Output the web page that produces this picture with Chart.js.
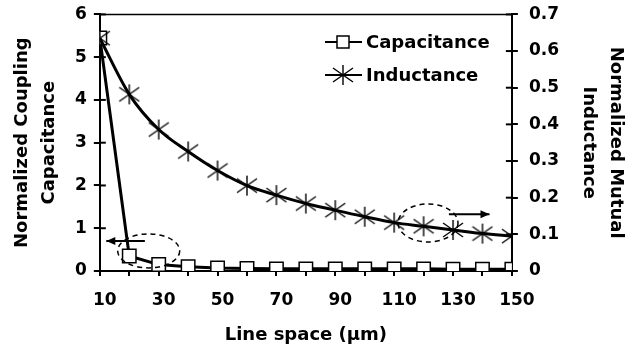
<!DOCTYPE html>
<html>
<head>
<meta charset="utf-8">
<script src="https://cdn.jsdelivr.net/npm/chart.js@4/dist/chart.umd.min.js"></script>
<style>
  body { margin: 0; background: #fff; }
</style>
</head>
<body>
<canvas id="c" width="638" height="352"></canvas>
<script>
// data
const spaces = [10, 20, 30, 40, 50, 60, 70, 80, 90, 100, 110, 120, 130, 140, 150];
const capacitance = [5.45, 0.35, 0.15, 0.1, 0.07, 0.06, 0.05, 0.05, 0.05, 0.05, 0.05, 0.05, 0.04, 0.04, 0.04];
const inductance = [0.635, 0.482, 0.386, 0.326, 0.274, 0.233, 0.207, 0.184, 0.166, 0.148, 0.132, 0.122, 0.112, 0.102, 0.095];
const xLabels = [10, 30, 50, 70, 90, 110, 130, 150];

const FONT = "'DejaVu Sans', sans-serif";

// asterisk marker like the Excel one
function starMarker(){
    let cv = document.createElement('canvas');
    cv.width = 22; cv.height = 22;
    let g = cv.getContext('2d');
    g.strokeStyle = '#000';
    g.lineWidth = 1.4;
    g.beginPath();
    g.moveTo(11, 1); g.lineTo(11, 21);
    g.moveTo(1, 4); g.lineTo(21, 18);
    g.moveTo(1, 18); g.lineTo(21, 4);
    g.stroke();
    return cv;
}
const star = starMarker();

function arrow(ctx, x1, y1, x2, y2){
    ctx.beginPath();
    ctx.moveTo(x1, y1);
    ctx.lineTo(x2, y2);
    ctx.stroke();
    let a = Math.atan2(y2 - y1, x2 - x1);
    ctx.beginPath();
    ctx.moveTo(x2, y2);
    ctx.lineTo(x2 - 9 * Math.cos(a) + 4 * Math.sin(a), y2 - 9 * Math.sin(a) - 4 * Math.cos(a));
    ctx.lineTo(x2 - 9 * Math.cos(a) - 4 * Math.sin(a), y2 - 9 * Math.sin(a) + 4 * Math.cos(a));
    ctx.closePath();
    ctx.fill();
}

const extras = {
    id: 'extras',
    afterDraw(chart){
        const ctx = chart.ctx;
        const a = chart.chartArea;
        const x = chart.scales.x, y = chart.scales.y, y1 = chart.scales.y1;
        ctx.save();
        ctx.strokeStyle = '#000';
        ctx.fillStyle = '#000';
        // top frame line
        ctx.lineWidth = 1.5;
        ctx.beginPath();
        ctx.moveTo(a.left, a.top);
        ctx.lineTo(a.right, a.top);
        ctx.stroke();
        // inner half of the y ticks
        ctx.lineWidth = 2;
        y.ticks.forEach(t => {
            let py = y.getPixelForValue(t.value);
            ctx.beginPath(); ctx.moveTo(a.left, py); ctx.lineTo(a.left + 6, py); ctx.stroke();
        });
        y1.ticks.forEach(t => {
            let py = y1.getPixelForValue(t.value);
            ctx.beginPath(); ctx.moveTo(a.right, py); ctx.lineTo(a.right - 6, py); ctx.stroke();
        });
        // dashed ellipses and arrows
        ctx.lineWidth = 1.5;
        ctx.setLineDash([5, 4]);
        ctx.beginPath();
        ctx.ellipse(x.getPixelForValue(26.6), y.getPixelForValue(0.47), 31, 17, 0, 0, Math.PI * 2);
        ctx.stroke();
        ctx.beginPath();
        ctx.ellipse(x.getPixelForValue(121.5), y1.getPixelForValue(0.131), 30, 19, 0, 0, Math.PI * 2);
        ctx.stroke();
        ctx.setLineDash([]);
        ctx.lineWidth = 2;
        arrow(ctx, x.getPixelForValue(25.3), y.getPixelForValue(0.7), x.getPixelForValue(12.2), y.getPixelForValue(0.7));
        arrow(ctx, x.getPixelForValue(128.6), y1.getPixelForValue(0.155), x.getPixelForValue(142.4), y1.getPixelForValue(0.155));
        // legend
        ctx.lineWidth = 2;
        ctx.beginPath(); ctx.moveTo(325, 42); ctx.lineTo(362, 42); ctx.stroke();
        ctx.fillStyle = '#fff';
        ctx.lineWidth = 1.5;
        ctx.fillRect(337, 36, 12, 12);
        ctx.strokeRect(337, 36, 12, 12);
        ctx.lineWidth = 2;
        ctx.beginPath(); ctx.moveTo(325, 75); ctx.lineTo(362, 75); ctx.stroke();
        ctx.drawImage(star, 332, 64);
        ctx.fillStyle = '#000';
        ctx.font = 'bold 18px ' + FONT;
        ctx.textBaseline = 'middle';
        ctx.fillText('Capacitance', 366, 43);
        ctx.fillText('Inductance', 366, 76);
        ctx.restore();
    }
};

const data = {
    datasets: [{
        label: 'Capacitance',
        data: spaces.map((s, i) => ({x: s, y: capacitance[i]})),
        yAxisID: 'y',
        borderColor: '#000',
        borderWidth: 3,
        tension: 0,
        pointStyle: 'rect',
        pointRadius: 9.5,
        pointBackgroundColor: '#fff',
        pointBorderColor: '#000',
        pointBorderWidth: 1.5,
        order: 2
    }, {
        label: 'Inductance',
        data: spaces.map((s, i) => ({x: s, y: inductance[i]})),
        yAxisID: 'y1',
        borderColor: '#000',
        borderWidth: 3,
        cubicInterpolationMode: 'monotone',
        pointStyle: star,
        order: 1
    }]
};

const tickFont = {family: FONT, size: 17, weight: 'bold'};
const yTickFont = {family: FONT, size: 17, weight: 'bold', lineHeight: 0.4};
const titleFont = {family: FONT, size: 18, weight: 'bold', lineHeight: 1.5};

const config = {
    type: 'line',
    data: data,
    options: {
        responsive: false,
        animation: false,
        layout: {padding: {left: 9, right: 9, top: 0, bottom: 6}},
        plugins: {legend: {display: false}, tooltip: {enabled: false}},
        scales: {
            x: {
                type: 'linear',
                min: 10, max: 150,
                border: {color: '#000', width: 2},
                grid: {drawOnChartArea: false, color: '#000', tickLength: 5, lineWidth: 2},
                ticks: {
                    stepSize: 10, autoSkip: false, maxRotation: 0,
                    color: '#000', font: tickFont, padding: 14, labelOffset: 5,
                    callback: v => xLabels.includes(v) ? String(v) : ''
                },
                title: {display: true, text: 'Line space (\u03bcm)', color: '#000', font: {family: FONT, size: 18, weight: 'bold'}, padding: {top: 0, bottom: 0}}
            },
            y: {
                position: 'left',
                min: 0, max: 6,
                border: {color: '#000', width: 2},
                grid: {drawOnChartArea: false, color: '#000', tickLength: 6, lineWidth: 2},
                ticks: {stepSize: 1, color: '#000', font: yTickFont, padding: 7},
                title: {display: true, text: ['Normalized Coupling', 'Capacitance'], color: '#000', font: titleFont, padding: {top: 0, bottom: 5}}
            },
            y1: {
                position: 'right',
                min: 0, max: 0.7,
                border: {color: '#000', width: 2},
                grid: {drawOnChartArea: false, color: '#000', tickLength: 6, lineWidth: 2},
                ticks: {
                    stepSize: 0.1, color: '#000', font: yTickFont, padding: 11,
                    callback: v => v === 0 ? '0' : v.toFixed(1)
                },
                title: {display: true, text: ['Normalized Mutual', 'Inductance'], color: '#000', font: titleFont, padding: {top: 0, bottom: 5}}
            }
        }
    },
    plugins: [extras]
};

let c = document.getElementById('c').getContext('2d');
new Chart(c, config);
</script>
</body>
</html>
